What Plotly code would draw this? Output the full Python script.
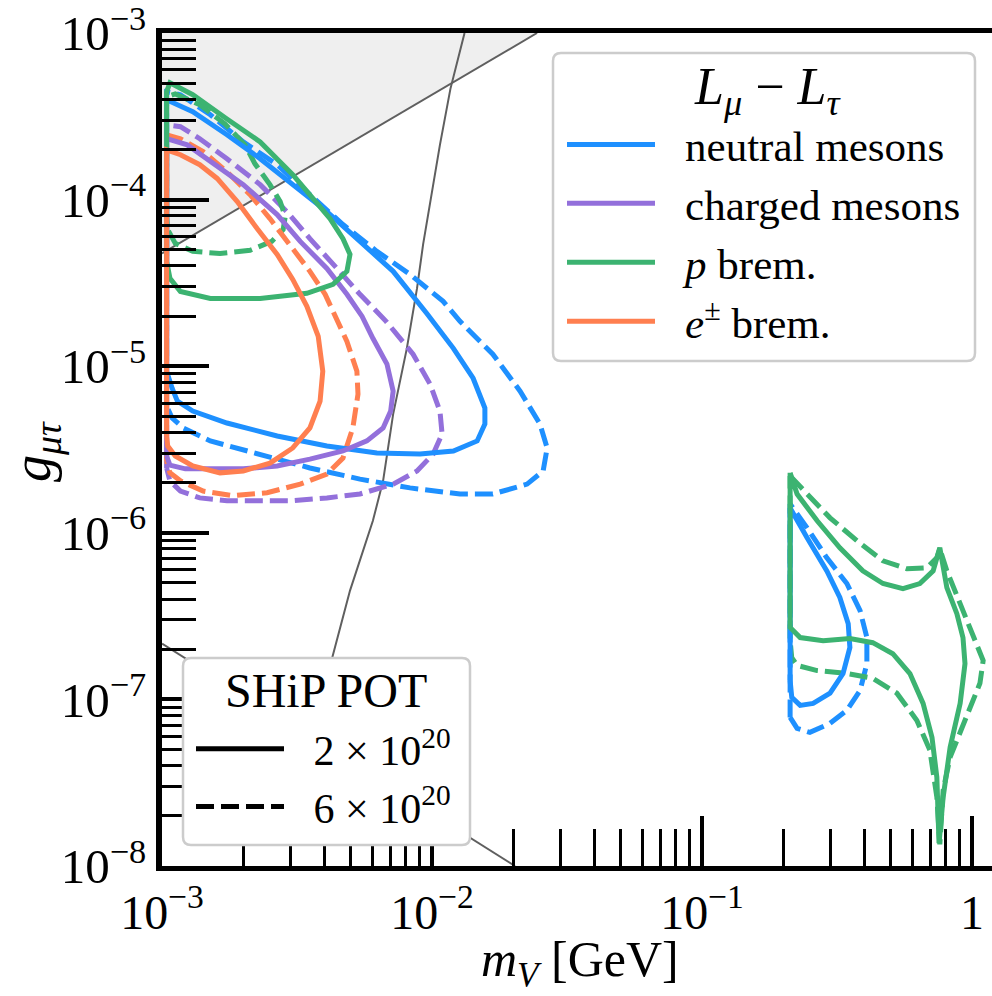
import plotly.graph_objects as go

FONT = "Liberation Serif"

# ---------------- data: mV [GeV], g_mu_tau ----------------
# shaded excluded region (top-left) and grey boundary curves
EXCL_M = [1e-3, 2.45e-2, 1e-3]
EXCL_G = [4.75e-5, 1e-3, 1e-3]
LINE_A_M = [1e-3, 2.45e-2]
LINE_A_G = [4.75e-5, 1e-3]
LINE_B_M = [1.32e-2, 1.24e-2, 1.17e-2, 1.07e-2, 9.84e-3, 9.27e-3, 8.80e-3, 8.07e-3, 7.18e-3, 6.59e-3, 6.04e-3, 4.97e-3, 4.27e-3, 3.25e-3]
LINE_B_G = [1e-3, 6.70e-4, 4.62e-4, 2.13e-4, 9.73e-5, 5.38e-5, 2.93e-5, 1.28e-5, 5.16e-6, 2.05e-6, 1.18e-6, 4.50e-7, 1.78e-7, 4.32e-8]
LINE_C_M = [1e-3, 2.03e-2]
LINE_C_G = [2.16e-7, 1e-8]

# neutral mesons
NM_SOLID_M = [1.04e-3, 1.04e-3, 1.30e-3, 1.74e-3, 2.31e-3, 3.05e-3, 4.08e-3, 5.41e-3, 7.18e-3, 9.57e-3, 1.20e-2, 1.42e-2, 1.57e-2, 1.57e-2, 1.47e-2, 1.20e-2, 9.03e-3, 6.25e-3, 4.08e-3, 2.67e-3, 1.74e-3, 1.30e-3, 1.14e-3, 1.09e-3, 1.04e-3]
NM_SOLID_G = [9.33e-6, 3.97e-4, 3.37e-4, 2.45e-4, 1.76e-4, 1.23e-4, 8.47e-5, 5.61e-5, 3.71e-5, 2.07e-5, 1.28e-5, 8.47e-6, 5.61e-6, 4.50e-6, 3.56e-6, 3.10e-6, 2.97e-6, 3.01e-6, 3.32e-6, 3.81e-6, 4.56e-6, 5.38e-6, 6.17e-6, 7.38e-6, 9.33e-6]
NM_DASH_M = [1.04e-3, 1.04e-3, 1.17e-3, 1.51e-3, 2.00e-3, 2.67e-3, 3.53e-3, 4.68e-3, 6.25e-3, 8.29e-3, 1.10e-2, 1.27e-2, 1.68e-2, 2.12e-2, 2.51e-2, 2.67e-2, 2.58e-2, 2.25e-2, 1.68e-2, 1.27e-2, 8.29e-3, 5.41e-3, 3.53e-3, 2.31e-3, 1.51e-3, 1.20e-3, 1.09e-3, 1.04e-3]
NM_DASH_G = [5.75e-6, 4.44e-4, 4.26e-4, 3.23e-4, 2.22e-4, 1.62e-4, 1.07e-4, 7.08e-5, 4.89e-5, 3.56e-5, 2.45e-5, 1.86e-5, 1.18e-5, 7.08e-6, 4.50e-6, 3.23e-6, 2.35e-6, 1.96e-6, 1.71e-6, 1.71e-6, 1.86e-6, 2.10e-6, 2.45e-6, 2.97e-6, 3.56e-6, 4.26e-6, 4.89e-6, 5.75e-6]
NM_SOLID_HI_M = [0.212, 0.212, 0.245, 0.290, 0.324, 0.348, 0.353, 0.333, 0.298, 0.258, 0.231, 0.215, 0.212]
NM_SOLID_HI_G = [1.30e-7, 1.41e-6, 9.33e-7, 5.91e-7, 4.09e-7, 2.85e-7, 2.05e-7, 1.43e-7, 1.09e-7, 9.46e-8, 9.21e-8, 1.03e-7, 1.30e-7]
NM_DASH_HI_M = [0.212, 0.212, 0.245, 0.290, 0.344, 0.385, 0.408, 0.408, 0.385, 0.344, 0.298, 0.251, 0.225, 0.212]
NM_DASH_HI_G = [7.80e-8, 1.49e-6, 1.07e-6, 7.08e-7, 4.96e-7, 3.41e-7, 2.35e-7, 1.64e-7, 1.13e-7, 8.59e-8, 7.18e-8, 6.34e-8, 6.70e-8, 7.80e-8]

# charged mesons
CM_SOLID_M = [1.04e-3, 1.04e-3, 1.24e-3, 1.51e-3, 2.00e-3, 2.67e-3, 3.25e-3, 4.08e-3, 4.84e-3, 5.51e-3, 6.04e-3, 6.81e-3, 7.18e-3, 7.03e-3, 6.59e-3, 5.74e-3, 4.68e-3, 3.53e-3, 2.67e-3, 2.00e-3, 1.51e-3, 1.22e-3, 1.07e-3, 1.04e-3]
CM_SOLID_G = [2.89e-6, 2.32e-4, 2.13e-4, 1.69e-4, 1.23e-4, 8.13e-5, 5.61e-5, 3.86e-5, 2.70e-5, 1.99e-5, 1.47e-5, 1.03e-5, 7.08e-6, 5.38e-6, 4.26e-6, 3.56e-6, 3.10e-6, 2.77e-6, 2.52e-6, 2.42e-6, 2.42e-6, 2.42e-6, 2.55e-6, 2.89e-6]
CM_DASH_M = [1.04e-3, 1.04e-3, 1.17e-3, 1.38e-3, 1.74e-3, 2.31e-3, 2.90e-3, 3.53e-3, 4.45e-3, 5.41e-3, 6.76e-3, 8.51e-3, 9.84e-3, 1.07e-2, 1.09e-2, 1.01e-2, 8.80e-3, 7.18e-3, 5.41e-3, 4.08e-3, 3.05e-3, 2.31e-3, 1.74e-3, 1.38e-3, 1.17e-3, 1.07e-3, 1.04e-3]
CM_DASH_G = [2.45e-6, 2.81e-4, 2.74e-4, 2.32e-4, 1.76e-4, 1.23e-4, 8.47e-5, 5.83e-5, 3.86e-5, 2.70e-5, 1.86e-5, 1.18e-5, 7.80e-6, 5.38e-6, 3.92e-6, 2.97e-6, 2.35e-6, 1.96e-6, 1.71e-6, 1.62e-6, 1.56e-6, 1.56e-6, 1.56e-6, 1.62e-6, 1.78e-6, 2.05e-6, 2.45e-6]

# p bremsstrahlung
PB_SOLID_M = [1.04e-3, 1.04e-3, 1.07e-3, 1.30e-3, 1.74e-3, 2.31e-3, 3.05e-3, 3.62e-3, 4.19e-3, 4.68e-3, 4.97e-3, 4.84e-3, 4.30e-3, 3.44e-3, 2.31e-3, 1.51e-3, 1.17e-3, 1.07e-3, 1.04e-3]
PB_SOLID_G = [4.26e-5, 4.44e-4, 5.02e-4, 4.26e-4, 3.05e-4, 2.22e-4, 1.41e-4, 1.01e-4, 7.69e-5, 5.83e-5, 4.69e-5, 3.71e-5, 3.10e-5, 2.74e-5, 2.55e-5, 2.55e-5, 2.81e-5, 3.37e-5, 4.26e-5]
PB_DASH_M = [1.04e-3, 1.04e-3, 1.12e-3, 1.38e-3, 1.71e-3, 2.03e-3, 2.21e-3, 2.51e-3, 2.74e-3, 2.86e-3, 2.81e-3, 2.55e-3, 2.12e-3, 1.64e-3, 1.30e-3, 1.12e-3, 1.05e-3, 1.04e-3]
PB_DASH_G = [7.91e-5, 4.14e-4, 4.31e-4, 3.71e-4, 2.85e-4, 2.13e-4, 1.64e-4, 1.23e-4, 9.73e-5, 7.91e-5, 6.60e-5, 5.61e-5, 4.96e-5, 4.75e-5, 4.89e-5, 5.46e-5, 6.60e-5, 7.91e-5]
PB_SOLID_HI_M = [0.212, 0.225, 0.267, 0.324, 0.394, 0.468, 0.555, 0.641, 0.718, 0.760, 0.807, 0.879, 0.926, 0.942, 0.904, 0.830, 0.782, 0.755, 0.741, 0.711, 0.659, 0.589, 0.509, 0.429, 0.353, 0.281, 0.231, 0.212, 0.212]
PB_SOLID_HI_G = [2.29e-6, 1.71e-6, 1.18e-6, 8.13e-7, 5.91e-7, 4.96e-7, 4.62e-7, 4.96e-7, 5.91e-7, 8.13e-7, 4.69e-7, 3.27e-7, 2.35e-7, 1.64e-7, 9.46e-8, 5.16e-8, 2.59e-8, 1.37e-8, 3.41e-8, 5.91e-8, 9.46e-8, 1.43e-7, 1.88e-7, 2.19e-7, 2.32e-7, 2.25e-7, 2.35e-7, 2.70e-7, 2.29e-6]
PB_DASH_HI_M = [0.212, 0.245, 0.298, 0.375, 0.468, 0.574, 0.681, 0.741, 0.760, 0.807, 0.904, 1.01, 1.10, 1.07, 0.984, 0.904, 0.830, 0.782, 0.760, 0.741, 0.698, 0.625, 0.527, 0.429, 0.344, 0.267, 0.225, 0.215, 0.212, 0.212]
PB_DASH_HI_G = [2.19e-6, 1.71e-6, 1.23e-6, 8.95e-7, 6.79e-7, 6.08e-7, 6.17e-7, 7.08e-7, 8.01e-7, 5.91e-7, 3.76e-7, 2.48e-7, 1.71e-7, 1.25e-7, 8.95e-8, 6.51e-8, 4.50e-8, 2.85e-8, 1.35e-8, 2.59e-8, 4.96e-8, 7.48e-8, 1.09e-7, 1.34e-7, 1.43e-7, 1.49e-7, 1.60e-7, 1.78e-7, 2.25e-7, 2.19e-6]

# e+- bremsstrahlung
EB_SOLID_M = [1.04e-3, 1.04e-3, 1.17e-3, 1.38e-3, 1.60e-3, 1.90e-3, 2.25e-3, 2.67e-3, 3.05e-3, 3.44e-3, 3.79e-3, 3.94e-3, 3.85e-3, 3.53e-3, 3.05e-3, 2.51e-3, 2.00e-3, 1.64e-3, 1.30e-3, 1.12e-3, 1.05e-3, 1.04e-3]
EB_SOLID_G = [3.81e-6, 1.99e-4, 1.86e-4, 1.62e-4, 1.34e-4, 9.73e-5, 6.70e-5, 4.69e-5, 3.32e-5, 2.29e-5, 1.51e-5, 9.33e-6, 6.17e-6, 4.26e-6, 3.23e-6, 2.62e-6, 2.35e-6, 2.29e-6, 2.52e-6, 2.89e-6, 3.32e-6, 3.81e-6]
EB_DASH_M = [1.04e-3, 1.04e-3, 1.17e-3, 1.42e-3, 1.74e-3, 2.12e-3, 2.51e-3, 2.98e-3, 3.53e-3, 4.02e-3, 4.38e-3, 4.84e-3, 5.27e-3, 5.32e-3, 5.09e-3, 4.68e-3, 4.08e-3, 3.25e-3, 2.45e-3, 1.83e-3, 1.42e-3, 1.17e-3, 1.07e-3, 1.04e-3]
EB_DASH_G = [2.70e-6, 2.45e-4, 2.32e-4, 1.94e-4, 1.47e-4, 1.07e-4, 7.69e-5, 5.38e-5, 3.71e-5, 2.70e-5, 1.99e-5, 1.41e-5, 9.33e-6, 6.79e-6, 4.26e-6, 2.81e-6, 2.25e-6, 1.96e-6, 1.74e-6, 1.67e-6, 1.78e-6, 2.05e-6, 2.29e-6, 2.70e-6]

PROCESS_NAMES = ["neutral mesons", "charged mesons", "<i>p</i> brem.", "<i>e</i><sup>±</sup> brem."]
PROCESS_COLORS = ["#1e90ff", "#9370db", "#3cb371", "#ff7f50"]
PROCESS_TITLE = "<i>L</i><sub><i>μ</i></sub> − <i>L</i><sub><i>τ</i></sub>"
POT_TITLE = "SHiP POT"
POT_LABELS = ["2 × 10<sup>20</sup>", "6 × 10<sup>20</sup>"]
X_TITLE = "<i>m</i><sub><i>V</i></sub> [GeV]"
Y_TITLE = "<i>g</i><sub><i>μτ</i></sub>"

X_TICKS = [1e-3, 1e-2, 1e-1, 1]
X_TICK_TEXT = ["10<sup>−3</sup>", "10<sup>−2</sup>", "10<sup>−1</sup>", "1"]
Y_TICKS = [1e-8, 1e-7, 1e-6, 1e-5, 1e-4, 1e-3]
Y_TICK_TEXT = ["10<sup>−8</sup>", "10<sup>−7</sup>", "10<sup>−6</sup>", "10<sup>−5</sup>", "10<sup>−4</sup>", "10<sup>−3</sup>"]

# ---------------- layout geometry (pixels) ----------------
W, H = 992, 996
ML, MT, MB = 162, 33, 130
PW, PH = W - ML, H - MT - MB


def px2paper(px, py):
    return (px - ML) / PW, (MT + PH - py) / PH


def rounded_box(x0, y0, x1, y1, r=8):
    a0, b1 = px2paper(x0, y0)
    a1, b0 = px2paper(x1, y1)
    rx, ry = r / PW, r / PH
    return (f"M{a0+rx},{b1} L{a1-rx},{b1} Q{a1},{b1} {a1},{b1-ry} L{a1},{b0+ry} "
            f"Q{a1},{b0} {a1-rx},{b0} L{a0+rx},{b0} Q{a0},{b0} {a0},{b0+ry} "
            f"L{a0},{b1-ry} Q{a0},{b1} {a0+rx},{b1} Z")


DASH = "18px,7px"
LW = 5
GAP = "\u2002\u200a"  # spacing between legend line and label

fig = go.Figure()

# excluded region + grey curves
fig.add_trace(go.Scatter(x=EXCL_M, y=EXCL_G, mode="lines", fill="toself", fillcolor="#efefef",
                         line=dict(width=0), showlegend=False, hoverinfo="skip"))
for xs, ys in [(LINE_A_M, LINE_A_G), (LINE_B_M, LINE_B_G), (LINE_C_M, LINE_C_G)]:
    fig.add_trace(go.Scatter(x=xs, y=ys, mode="lines", line=dict(color="#5f5f5f", width=2),
                             showlegend=False, hoverinfo="skip"))

curves = [
    (NM_DASH_M, NM_DASH_G, 0, True), (NM_DASH_HI_M, NM_DASH_HI_G, 0, True),
    (CM_DASH_M, CM_DASH_G, 1, True),
    (PB_DASH_M, PB_DASH_G, 2, True), (PB_DASH_HI_M, PB_DASH_HI_G, 2, True),
    (EB_DASH_M, EB_DASH_G, 3, True),
    (NM_SOLID_HI_M, NM_SOLID_HI_G, 0, False),
    (PB_SOLID_HI_M, PB_SOLID_HI_G, 2, False),
]
for xs, ys, ci, dashed in curves:
    fig.add_trace(go.Scatter(x=xs, y=ys, mode="lines",
                             line=dict(color=PROCESS_COLORS[ci], width=LW, dash=DASH if dashed else "solid"),
                             showlegend=False, hoverinfo="skip"))

# solid low-mass curves carry the process legend
for i, (xs, ys) in enumerate([(NM_SOLID_M, NM_SOLID_G), (CM_SOLID_M, CM_SOLID_G),
                              (PB_SOLID_M, PB_SOLID_G), (EB_SOLID_M, EB_SOLID_G)]):
    fig.add_trace(go.Scatter(x=xs, y=ys, mode="lines", name=GAP + PROCESS_NAMES[i],
                             line=dict(color=PROCESS_COLORS[i], width=LW),
                             legend="legend", legendrank=i + 1, hoverinfo="skip"))

# POT legend entries
for j, lab in enumerate(POT_LABELS):
    fig.add_trace(go.Scatter(x=[None], y=[None], mode="lines", name=GAP + lab,
                             line=dict(color="black", width=LW, dash="solid" if j == 0 else DASH),
                             legend="legend2", legendrank=j + 1))

X_MINOR = [m * 10.0 ** e for e in range(-3, 0) for m in range(2, 10)]
Y_MINOR = [m * 10.0 ** e for e in range(-8, -3) for m in range(2, 10)]

l1x, l1y = px2paper(562, 110)
l2x, l2y = px2paper(191, 715)
t1x, t1y = px2paper(767, 90)
t2x, t2y = px2paper(326, 690)
xtx, xty = px2paper(580, 997)
ytx, yty = px2paper(36, 452)

fig.update_layout(
    width=W, height=H,
    margin=dict(l=ML, r=0, t=MT, b=MB),
    paper_bgcolor="white", plot_bgcolor="white",
    font=dict(family=FONT, size=48, color="black"),
    legend=dict(x=l1x, y=l1y, xanchor="left", yanchor="top", bgcolor="rgba(0,0,0,0)",
                borderwidth=0, font=dict(family=FONT, size=43), itemwidth=88, tracegroupgap=0),
    legend2=dict(x=l2x, y=l2y, xanchor="left", yanchor="top", bgcolor="rgba(0,0,0,0)",
                 borderwidth=0, font=dict(family=FONT, size=42), itemwidth=88, tracegroupgap=0),
    shapes=[
        dict(type="path", xref="paper", yref="paper", path=rounded_box(553, 53, 975, 361),
             fillcolor="white", line=dict(color="#cccccc", width=2.5), layer="above"),
        dict(type="path", xref="paper", yref="paper", path=rounded_box(183, 658, 470, 845),
             fillcolor="white", line=dict(color="#cccccc", width=2.5), layer="above"),
    ],
    annotations=[
        dict(text=PROCESS_TITLE, x=t1x, y=t1y, xref="paper", yref="paper", showarrow=False,
             xanchor="center", yanchor="middle", font=dict(family=FONT, size=52)),
        dict(text=POT_TITLE, x=t2x, y=t2y, xref="paper", yref="paper", showarrow=False,
             xanchor="center", yanchor="middle", font=dict(family=FONT, size=48)),
        dict(text=X_TITLE, x=xtx, y=xty, xref="paper", yref="paper", showarrow=False,
             xanchor="center", yanchor="bottom", font=dict(family=FONT, size=50)),
        dict(text=Y_TITLE, x=ytx, y=yty, xref="paper", yref="paper", showarrow=False,
             xanchor="center", yanchor="middle", textangle=-90, font=dict(family=FONT, size=54)),
    ],
)
fig.update_xaxes(type="log", range=[-3, 0.0741], showline=True, linewidth=5, linecolor="black",
                 mirror=True, ticks="inside", ticklen=50, tickwidth=4, tickcolor="black",
                 tickmode="array", tickvals=X_TICKS, ticktext=X_TICK_TEXT,
                 tickfont=dict(family=FONT, size=48), ticklabeloverflow="allow",
                 minor=dict(tickmode="array", tickvals=X_MINOR, ticks="inside", ticklen=37,
                            tickwidth=3, tickcolor="black", showgrid=False),
                 showgrid=False, zeroline=False)
fig.update_yaxes(type="log", range=[-8, -3], showline=True, linewidth=6, linecolor="black",
                 mirror=False, ticks="inside", ticklen=47, tickwidth=4, tickcolor="black",
                 tickmode="array", tickvals=Y_TICKS, ticktext=Y_TICK_TEXT,
                 tickfont=dict(family=FONT, size=49), ticklabeloverflow="allow",
                 minor=dict(tickmode="array", tickvals=Y_MINOR, ticks="inside", ticklen=34,
                            tickwidth=3, tickcolor="black", showgrid=False),
                 showgrid=False, zeroline=False)

fig.write_html("out.html")
